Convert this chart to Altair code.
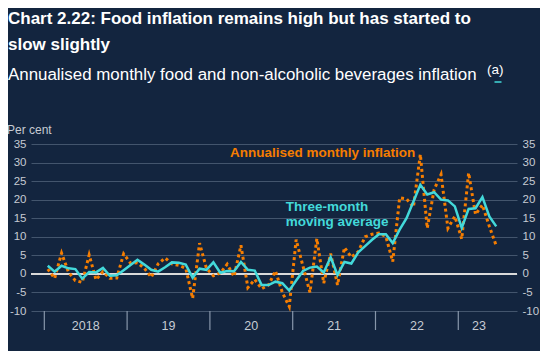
import altair as alt
import pandas as pd

# months since Jan 2018 (0 = Jan 2018 ... 65 = Jun 2023)
month_index = list(range(66))

annualised_monthly = [
    1.3, -1.2, 5.6, 0.5, -1.8, -2.3, 5.1, -1.6, 0.6, -1.2, -1.1,
    5.4, 2.9, 3.0, 1.5, -0.9, 2.7, 4.3, 2.7, 2.3, 1.5,
    -6.6, 8.3, 1.5, -0.5, 0.2, 2.6, -0.7, 7.7, -3.7, -1.5,
    -4.0, -3.0, 0.8, -5.0, -8.8, 9.2, 2.0, -5.0, 9.5, -2.5,
    5.5, -3.0, 7.1, 4.5, 6.0, 10.0, 10.7, 11.0, 10.1, 3.3,
    20.5, 20.2, 18.0, 32.2, 12.3, 22.7, 26.8, 12.3, 15.5, 9.4,
    27.2, 16.0, 18.6, 12.8, 7.6,
]

three_month_avg = [
    2.2, 0.6, 2.2, 1.5, 1.3, -1.3, 0.5, 0.4, 1.6, -0.5, -0.4,
    1.0, 2.4, 3.8, 2.5, 1.1, 0.6, 1.8, 3.1, 3.0, 2.5,
    -1.0, 1.4, 1.1, 3.1, 0.3, 0.8, 0.7, 3.2, 1.1, 0.9,
    -3.0, -3.0, -2.1, -2.5, -4.5, -1.8, 0.8, 1.7, 2.0, 0.4,
    4.5, -0.3, 3.2, 2.8, 5.8, 7.5, 9.2, 10.7, 10.7, 8.3,
    11.9, 15.0, 19.5, 24.0, 21.4, 22.0, 20.0, 19.8, 18.2, 12.4,
    17.5, 17.7, 20.7, 15.5, 12.8,
]

year_labels = ["2018", "19", "20", "21", "22", "23"]
year_label_month = [6, 18, 30, 42, 54, 63]
year_start_month = [0, 12, 24, 36, 48, 60]
y_ticks = [-10, -5, 0, 5, 10, 15, 20, 25, 30, 35]

BG = "#13253f"
GRID = "#43556d"
LABEL = "#c6cbd3"
ORANGE = "#f57d00"
CYAN = "#43d9da"
FONT = "Liberation Sans"

W, H = 486, 167

df = pd.DataFrame({
    "m": [i + 0.5 for i in month_index],
    "annual": annualised_monthly,
    "avg": three_month_avg,
})
years_df = pd.DataFrame({"label": year_labels, "pos": year_label_month})
ticks_df = pd.DataFrame({"pos": year_start_month})

xscale = alt.Scale(domain=[-1.93, 68.51], nice=False, zero=False)
yscale = alt.Scale(domain=[-10, 35], nice=False, zero=False)

left_axis = alt.Axis(values=y_ticks, grid=True, gridColor=GRID, gridWidth=1.2,
                     domain=False, ticks=False, labelPadding=5, labelColor=LABEL,
                     labelFont=FONT, labelFontSize=11.5, title=None, orient="left",
                     labelExpr="datum.value + ''")
right_axis = alt.Axis(values=y_ticks, grid=False, domain=False, ticks=False,
                      labelPadding=5, labelColor=LABEL, labelFont=FONT,
                      labelFontSize=11.5, title=None, orient="right",
                      labelExpr="datum.value + ''")

zero = alt.Chart(pd.DataFrame({"z": [0]})).mark_rule(color="#d9d9d9", strokeWidth=2).encode(
    y=alt.Y("z:Q", scale=yscale, axis=left_axis)
)

tick_layer = alt.Chart(ticks_df).mark_rule(color="#8796aa", strokeWidth=1.2).encode(
    x=alt.X("pos:Q", scale=xscale, axis=None),
    y=alt.value(H),
    y2=alt.value(H + 19),
)

orange = alt.Chart(df).mark_line(color=ORANGE, strokeWidth=3, strokeDash=[3, 3]).encode(
    x=alt.X("m:Q", scale=xscale, axis=None),
    y=alt.Y("annual:Q", scale=yscale, axis=None),
)

cyan = alt.Chart(df).mark_line(color=CYAN, strokeWidth=2.5).encode(
    x=alt.X("m:Q", scale=xscale, axis=None),
    y=alt.Y("avg:Q", scale=yscale, axis=right_axis),
)

ann1 = alt.Chart(pd.DataFrame({"x": [26.9], "y": [32.6], "t": ["Annualised monthly inflation"]})).mark_text(
    align="left", baseline="middle", font=FONT, fontSize=13.5, fontWeight="bold", color=ORANGE
).encode(x=alt.X("x:Q", scale=xscale, axis=None), y=alt.Y("y:Q", scale=yscale, axis=None), text="t:N")

ann2 = alt.Chart(pd.DataFrame({"x": [35.0, 35.0], "y": [18.0, 14.1],
                               "t": ["Three-month", "moving average"]})).mark_text(
    align="left", baseline="middle", font=FONT, fontSize=13.5, fontWeight="bold", color=CYAN
).encode(x=alt.X("x:Q", scale=xscale, axis=None), y=alt.Y("y:Q", scale=yscale, axis=None), text="t:N")

years = alt.Chart(years_df).mark_text(
    align="center", baseline="middle", font=FONT, fontSize=12.5, color=LABEL
).encode(x=alt.X("pos:Q", scale=xscale, axis=None), y=alt.value(H + 15), text="label:N")

one = pd.DataFrame({"k": [0]})

def label(text, x, y, size, weight="normal", color="white", align="left"):
    return alt.Chart(one).mark_text(
        text=text, align=align, baseline="middle", font=FONT, fontSize=size,
        fontWeight=weight, color=color
    ).encode(x=alt.value(x), y=alt.value(y))

t1 = label("Chart 2.22: Food inflation remains high but has started to", -23, -125.5, 17, "bold")
t2 = label("slow slightly", -23, -99.5, 17, "bold")
sub = label("Annualised monthly food and non-alcoholic beverages inflation", -23, -69, 16.9)
sup = label("(a)", 456, -74, 13.5)
per = label("Per cent", -24, -14, 12, color=LABEL)

underline = alt.Chart(one).mark_rule(color=CYAN, strokeWidth=1.5).encode(
    x=alt.value(463.5), x2=alt.value(470.5), y=alt.value(-62)
)

chart = alt.layer(
    zero, tick_layer, orange, cyan, ann1, ann2, years, t1, t2, sub, sup, per, underline
).resolve_axis(y="independent").properties(
    width=W, height=H,
    background=BG,
    padding={"left": 23, "top": 136, "right": 23, "bottom": 40},
    autosize=alt.AutoSizeParams(type="none"),
).configure_view(stroke=None)

chart.save("out.html", embed_options={"renderer": "svg", "actions": False})
